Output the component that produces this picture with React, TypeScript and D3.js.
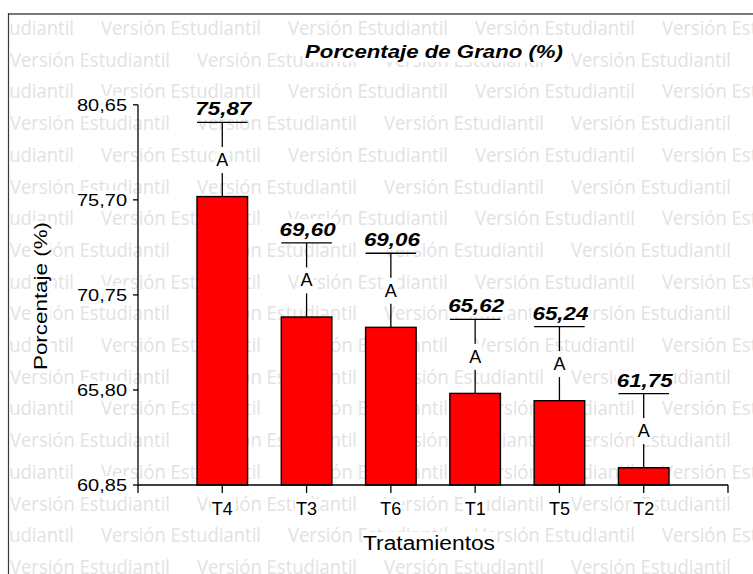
import React, { useEffect, useRef } from "react";
import * as d3 from "d3";

const categories = ["T4", "T3", "T6", "T1", "T5", "T2"];
const means = [75.87, 69.6, 69.06, 65.62, 65.24, 61.75];
const errors = [3.86, 3.86, 3.86, 3.86, 3.86, 3.86];
const groups = ["A", "A", "A", "A", "A", "A"];
const yTicks = [60.85, 65.8, 70.75, 75.7, 80.65];
const title = "Porcentaje de Grano (%)";
const xTitle = "Tratamientos";
const yTitle = "Porcentaje (%)";
const watermark = "Versión Estudiantil";

const W = 753;
const H = 574;
const FONT = "'Liberation Sans', Arial, sans-serif";
const fmt = (v: number) => v.toFixed(2).replace(".", ",");

export default function App() {
  const ref = useRef<SVGSVGElement | null>(null);

  useEffect(() => {
    const svg = d3.select(ref.current!);
    svg.selectAll("*").remove();

    const x = d3.scaleLinear().domain([0, categories.length + 1]).range([138, 728]);
    const y = d3.scaleLinear().domain([60.85, 80.65]).range([485, 104.8]);
    const barW = (x(1) - x(0)) * 0.6;

    svg.append("rect").attr("width", W).attr("height", H).attr("fill", "#fff");

    // watermark
    const defs = svg.append("defs");
    defs.append("clipPath").attr("id", "wmclip")
      .append("rect").attr("x", 8.5).attr("y", 15).attr("width", W).attr("height", H);
    const wm = svg.append("g").attr("clip-path", "url(#wmclip)");
    for (let k = 0; k < 18; k++) {
      const by = 35 + 31.7 * k;
      let sx = (k % 2 === 1 ? 10 : 101) - 187;
      for (; sx < W; sx += 187) {
        wm.append("text")
          .attr("x", sx).attr("y", by)
          .attr("font-family", "'Open Sans', 'Liberation Sans', sans-serif")
          .attr("font-size", 20)
          .attr("fill", "#e2e2e2")
          .attr("textLength", 160)
          .attr("lengthAdjust", "spacingAndGlyphs")
          .text(watermark);
      }
    }

    // bars
    svg.append("g").selectAll("rect").data(means).join("rect")
      .attr("x", (_, i) => x(i + 1) - barW / 2)
      .attr("y", d => y(d))
      .attr("width", barW)
      .attr("height", d => y(60.85) - y(d))
      .attr("fill", "#ff0000")
      .attr("stroke", "#000")
      .attr("stroke-width", 1.4);

    // whiskers
    const wg = svg.append("g").attr("stroke", "#000").attr("stroke-width", 1.3);
    means.forEach((m, i) => {
      const cx = x(i + 1);
      wg.append("line").attr("x1", cx).attr("x2", cx).attr("y1", y(m)).attr("y2", y(m + errors[i]));
      wg.append("line").attr("x1", cx - barW / 2).attr("x2", cx + barW / 2)
        .attr("y1", y(m + errors[i])).attr("y2", y(m + errors[i]));
    });

    // axes
    const ax = svg.append("g").attr("stroke", "#000").attr("stroke-width", 1.3);
    ax.append("line").attr("x1", x(0)).attr("x2", x(0)).attr("y1", y(80.65)).attr("y2", y(60.85));
    yTicks.forEach(t => {
      ax.append("line").attr("x1", x(0) - 5).attr("x2", x(0)).attr("y1", y(t)).attr("y2", y(t));
    });
    ax.append("line").attr("x1", x(0)).attr("x2", x(categories.length + 1)).attr("y1", y(60.85)).attr("y2", y(60.85));
    d3.range(categories.length + 2).forEach(i => {
      ax.append("line").attr("x1", x(i)).attr("x2", x(i)).attr("y1", y(60.85)).attr("y2", y(60.85) + 8);
    });

    const tg = svg.append("g");
    const addText = (
      tx: number, ty: number, str: string,
      opts: { size: number; anchor?: string; weight?: string; style?: string; len?: number; rotate?: number; padX?: number; padY?: number }
    ) => {
      const g = tg.append("g").attr("transform", `translate(${tx},${ty})${opts.rotate ? ` rotate(${opts.rotate})` : ""}`);
      const r = g.append("rect").attr("fill", "#fff");
      const t = g.append("text")
        .attr("font-family", FONT)
        .attr("font-size", opts.size)
        .attr("font-weight", opts.weight || "normal")
        .attr("font-style", opts.style || "normal")
        .attr("text-anchor", opts.anchor || "middle")
        .attr("fill", "#000")
        .text(str);
      if (opts.len) t.attr("textLength", opts.len).attr("lengthAdjust", "spacingAndGlyphs");
      const bb = (t.node() as SVGTextElement).getBBox();
      const w = opts.len || bb.width;
      const anchor = opts.anchor || "middle";
      const x0 = anchor === "middle" ? -w / 2 : anchor === "end" ? -w : 0;
      const px = opts.padX ?? 1;
      const py = opts.padY ?? 0;
      r.attr("x", x0 - px).attr("y", bb.y - py).attr("width", w + 2 * px).attr("height", bb.height + 2 * py);
    };

    // title
    addText(434, 58, title, { size: 18, weight: "bold", style: "italic", len: 258 });

    // y tick labels
    yTicks.forEach(t => addText(127, y(t) + 6, fmt(t), { size: 17, anchor: "end", len: 50 }));

    // x tick labels
    categories.forEach((c, i) => addText(x(i + 1), 515, c, { size: 18 }));

    // axis titles
    addText(429, 550, xTitle, { size: 20, len: 132 });
    addText(46.5, 296, yTitle, { size: 18, len: 148, rotate: -90 });

    // value labels + group letters
    means.forEach((m, i) => {
      const cx = x(i + 1);
      const capY = y(m + errors[i]);
      addText(cx + 1, capY - 7, fmt(m), { size: 19, weight: "bold", style: "italic", len: 56 });
      addText(cx, (y(m) + capY) / 2 + 6.5, groups[i], { size: 18, padX: 1, padY: 3 });
    });

    // border
    svg.append("line").attr("x1", 8).attr("x2", W).attr("y1", 14).attr("y2", 14)
      .attr("stroke", "#7a7a7a").attr("stroke-width", 2);
    svg.append("line").attr("x1", 8.5).attr("x2", 8.5).attr("y1", 13).attr("y2", H)
      .attr("stroke", "#3a3a3a").attr("stroke-width", 1.2);
  }, []);

  return (
    <svg
      ref={ref}
      width={W}
      height={H}
      style={{ position: "absolute", left: 0, top: 0, display: "block" }}
    />
  );
}
